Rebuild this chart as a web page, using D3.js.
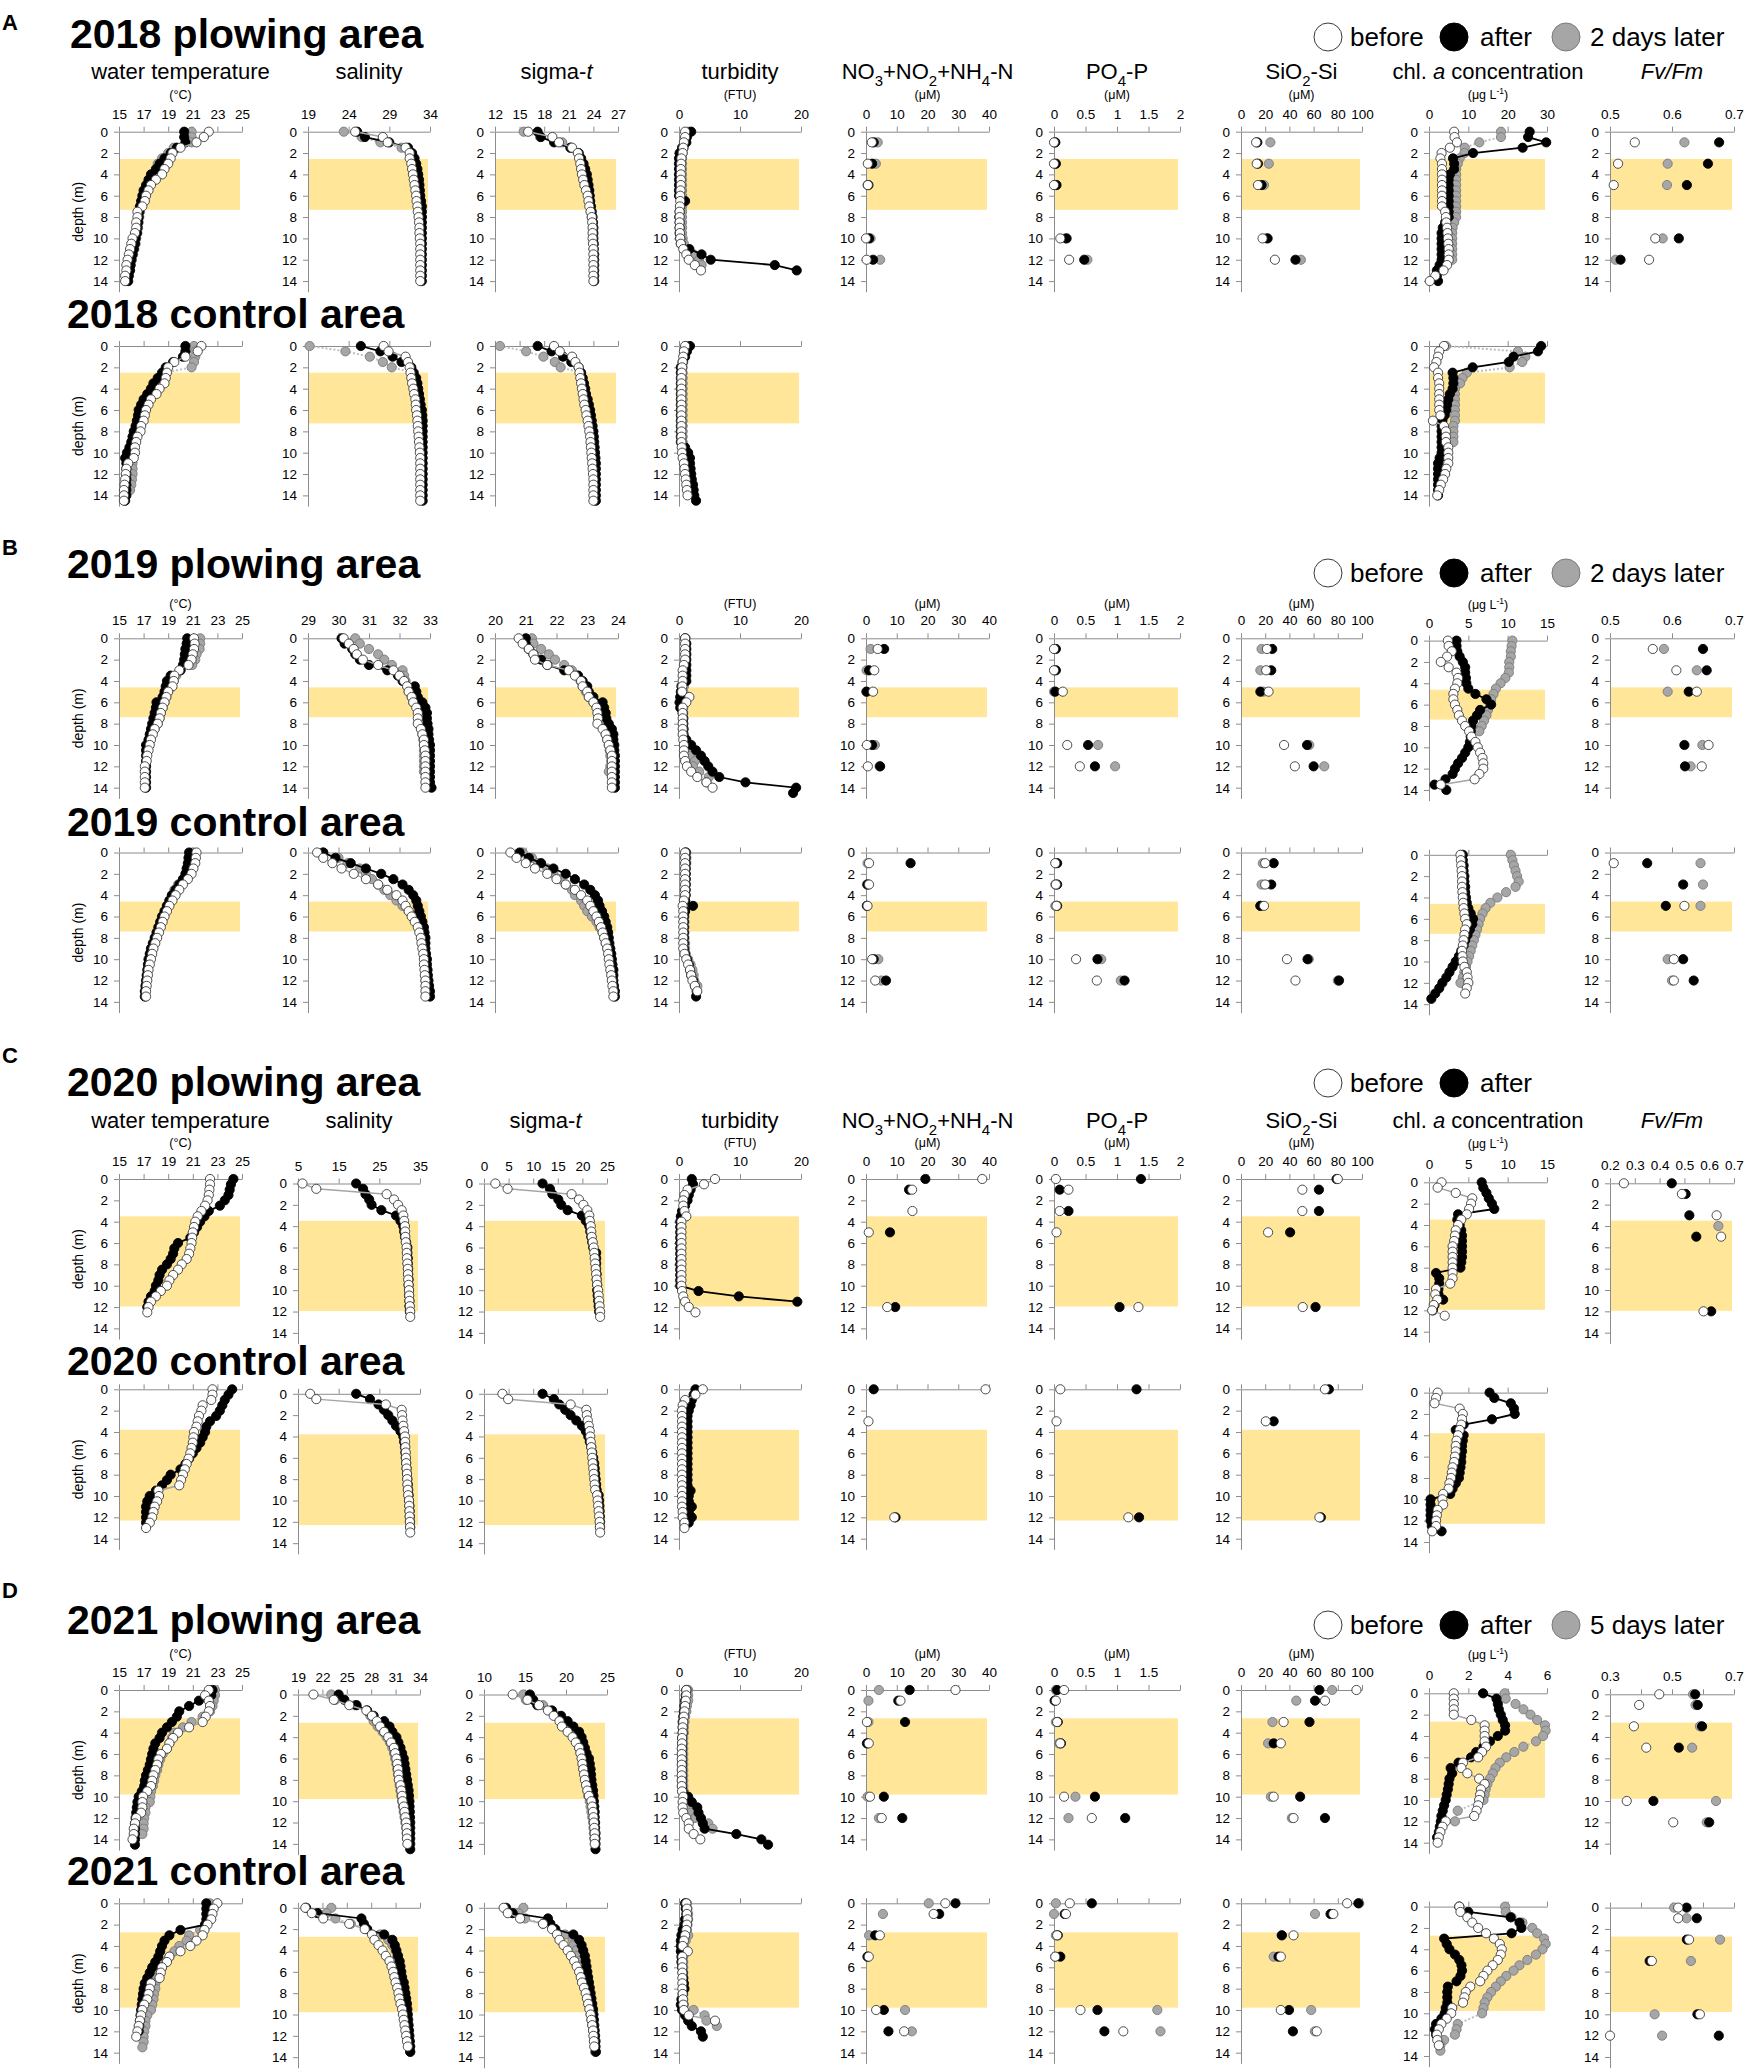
<!DOCTYPE html>
<html lang="en">
<head>
<meta charset="UTF-8">
<title>Plowing area profiles 2018-2021</title>
<script src="https://d3js.org/d3.v7.min.js"></script>
<style>
  body { margin: 0; background: #fff; }
  svg { display: block; font-family: "Liberation Sans", Arial, sans-serif; }
  .axis path, .axis line { stroke: #8c8c8c; }
  .axis text { font-size: 13.5px; fill: #000; font-family: "Liberation Sans", Arial, sans-serif; }
</style>
</head>
<body>
<script>
// ---- categories / labels ----
const rowTitles = ["2018 plowing area", "2018 control area", "2019 plowing area", "2019 control area",
                   "2020 plowing area", "2020 control area", "2021 plowing area", "2021 control area"];
const legendNames = [["before", "after", "2 days later"], ["before", "after", "2 days later"],
                     ["before", "after"], ["before", "after", "5 days later"]];
const panelTitles = [
  [["water temperature"]], [["salinity"]], [["sigma-"], ["t", "i"]], [["turbidity"]],
  [["NO"], ["3", "sub"], ["+NO"], ["2", "sub"], ["+NH"], ["4", "sub"], ["-N"]],
  [["PO"], ["4", "sub"], ["-P"]], [["SiO"], ["2", "sub"], ["-Si"]],
  [["chl. "], ["a", "i"], [" concentration"]], [["Fv/Fm", "i"]]
];
const panelUnits = [[["(°C)"]], null, null, [["(FTU)"]], [["(μM)"]], [["(μM)"]], [["(μM)"]],
                    [["(μg L"], ["-1", "sup"], [")"]], null];

// ---- tick labels ----
const tempTicks = [15, 17, 19, 21, 23, 25];
const salTicks = [[19, 24, 29, 34], [29, 30, 31, 32, 33], [5, 15, 25, 35], [19, 22, 25, 28, 31, 34]];
const sigTicks = [[12, 15, 18, 21, 24, 27], [20, 21, 22, 23, 24], [0, 5, 10, 15, 20, 25], [10, 15, 20, 25]];
const turbTicks = [0, 10, 20];
const nTicks = [0, 10, 20, 30, 40];
const pTicks = [0, 0.5, 1, 1.5, 2];
const siTicks = [0, 20, 40, 60, 80, 100];
const chlTicks = [[0, 10, 20, 30], [0, 5, 10, 15], [0, 5, 10, 15], [0, 2, 4, 6]];
const fvTicks = [[0.5, 0.6, 0.7], [0.5, 0.6, 0.7], [0.2, 0.3, 0.4, 0.5, 0.6, 0.7], [0.3, 0.4, 0.5, 0.6, 0.7]];
const hiddenLabels2021 = { 5: [2], 8: [0.4, 0.6] };
const depthTicks = [0, 2, 4, 6, 8, 10, 12, 14];

// ---- depths ----
const ctdDepth = [0, 0.5, 1, 1.5, 2, 2.5, 3, 3.5, 4, 4.5, 5, 5.5, 6, 6.5, 7, 7.5, 8, 8.5, 9, 9.5, 10, 10.5, 11, 11.5, 12, 12.5, 13, 13.5, 14, 14.5];
const bottle1819 = [1, 3, 5, 10, 12];
const bottle20p = [0, 1, 3, 5, 12];
const bottle20c = [0, 3, 12];
const fvDepth20 = [0, 1, 3, 4, 5, 12];
const bottle21 = [0, 1, 3, 5, 10, 12];
const _ = null;

// ===== 2018 plowing =====
const temp18p = {
  before: [22.3,21.9,21.3,20.0,19.35,19.2,19.0,18.7,18.5,18.0,17.6,17.4,17.2,17.1,16.9,16.5,16.5,16.4,16.4,16.3,16.1,16.0,15.9,15.8,15.7,15.6,15.6,15.5,15.5],
  after: [20.3,20.3,20.4,19.7,19.2,18.7,18.3,18.0,17.6,17.4,17.2,17.0,16.9,16.8,16.7,16.65,16.6,16.55,16.5,16.45,16.35,16.3,16.2,16.1,16.0,15.95,15.9,15.8,15.75],
  later: [20.9,20.9,20.9,19.45,19.0,18.5,18.15,18.05,17.8,17.55,17.35,17.15,17.0,16.9,16.8,16.7,16.65,16.6,16.55,16.5,16.4,16.35,16.25,16.15,16.05]
};
const sal18p = {
  before: [24.8,28.2,28.8,31.0,31.5,31.5,31.7,31.8,31.9,32.0,32.1,32.2,32.3,32.35,32.45,32.5,32.6,32.65,32.7,32.7,32.75,32.8,32.8,32.8,32.8,32.8,32.8,32.8,32.8],
  after: [25.05,26.0,29.0,31.3,31.8,32.1,32.3,32.45,32.55,32.65,32.7,32.75,32.8,32.9,33.0,33.0,33.0,33.0,33.0,33.0,33.0,33.0,33.0,33.0,33.0,33.0,33.0,33.0,33.0],
  later: [23.4,25.6,27.9,30.5,31.7,32.0,32.2,32.35,32.5,32.6,32.65,32.7,32.75,32.8,32.9,32.95,33.0]
};
const sig18p = {
  before: [16.05,19.0,19.8,21.4,22.1,22.25,22.4,22.5,22.6,22.75,22.9,23.1,23.3,23.4,23.5,23.65,23.8,23.85,23.9,23.9,23.9,23.95,24.0,24.0,24.0,24.0,24.0,24.0,24.0],
  after: [17.2,17.6,19.2,21.2,22.2,22.5,22.8,23.0,23.2,23.3,23.4,23.5,23.55,23.6,23.7,23.8,23.9,23.95,24.0,24.0,24.0,24.05,24.05,24.1,24.1,24.1,24.1,24.1,24.1],
  later: [15.5,17.5,20.2,21.2,22.2,22.4,22.6,22.8,23.0,23.15,23.3,23.4,23.5,23.6,23.65,23.7,23.8]
};
const turb18p = {
  before: [1.0,1.0,0.8,0.7,0.6,0.4,0.35,0.3,0.3,0.3,0.3,0.25,0.2,0.2,0.15,0.1,0.1,0.1,0.1,0.15,0.2,0.3,0.7,1.2,1.6,2.6,3.6],
  after: [2.0,1.3,1.2,0.5,0.1,0,0,0,0,0,0,0,0,1.0,0.2,0.1,0.05,0.1,0.1,0.1,0.2,0.3,1.7,3.7,5.2,15.7,19.3],
  later: [1.5,1.2,1.0,0.8,0.6,0.5,0.5,0.5,0.5,0.5,0.5,0.5,0.5,0.5,0.5,0.5,0.5,0.5,0.5,0.5,0.6,0.8,1.5,2.4,3.3,3.7]
};
const n18p = { depth: bottle1819, before: [1.9,0.6,0.6,0,0.2], after: [2.5,2.0,0.8,1.0,2.3], later: [3.8,3.2,0.5,1.5,4.6] };
const p18p = { depth: bottle1819, before: [0,0,0,0.1,0.24], after: [0.02,0.03,0.04,0.2,0.48], later: [0.02,0.02,0.02,0.18,0.53] };
const si18p = { depth: bottle1819, before: [12.5,13,14,17.8,28], after: [13.5,14,17,22,45], later: [24.3,23,19,21,49.5] };
const chl18p = {
  before: [6.4,6.5,7.1,5.3,3.2,2.9,3.3,3.3,3.3,3.3,3.3,3.3,3.3,3.3,3.3,4.1,4.3,4.4,4.6,4.7,4.8,4.9,5.0,5.0,5.0,4.6,3.7,1.6,0.2],
  after: [25.6,25.2,29.8,23.8,11.2,6.1,6.4,6.4,5.3,5.0,5.0,5.0,5.0,5.0,5.0,5.0,5.0,4.1,3.5,3.2,3.2,3.2,3.2,3.2,3.2,2.7,2.0,2.0,2.3],
  later: [18.3,18.3,12.8,9.1,9.0,7.8,7.3,6.9,6.9,6.9,6.9,6.9,6.9,6.9,6.9,6.9,6.9,6.4,6.0,5.9,5.9,5.9,5.9,5.9,5.9]
};
const fv18p = { depth: bottle1819, before: [0.54,0.513,0.506,0.573,0.563], after: [0.676,0.658,0.624,0.611,0.517], later: [0.62,0.593,0.592,0.585,0.509] };

// ===== 2018 control =====
const temp18c = {
  before: [21.7,21.4,20.4,19.5,19.0,18.9,18.8,18.7,18.3,18.05,17.6,17.4,17.2,17.1,17.0,16.8,16.75,16.5,16.4,16.3,16.3,16.2,15.75,15.6,15.55,15.5,15.45,15.4,15.4,15.4],
  after: [20.4,20.4,20.2,19.4,18.8,18.5,18.15,17.8,17.6,17.3,17.0,16.8,16.6,16.55,16.45,16.35,16.2,16.1,16.0,15.85,15.65,15.5,15.6,15.6,15.6,15.6,15.6,15.6,15.6,15.5],
  later: [21.1,21.2,21.2,21.1,20.9,18.7,18.3,18.0,17.8,17.5,17.2,17.0,16.8,16.7,16.6,16.5,16.4,16.3,16.25,16.2,16.15,16.1,16.1,16.1,16.1,16.05,16.0,15.9]
};
const sal18c = {
  before: [28.3,28.9,31.0,31.3,31.5,31.6,31.7,31.8,31.95,32.05,32.2,32.25,32.3,32.4,32.45,32.5,32.55,32.6,32.65,32.7,32.75,32.8,32.8,32.8,32.8,32.8,32.8,32.8,32.8,32.8],
  after: [25.5,27.9,29.4,30.5,31.7,32.0,32.3,32.45,32.55,32.65,32.75,32.85,33.0,33.05,33.1,33.1,33.1,33.1,33.1,33.1,33.1,33.1,33.1,33.1,33.1,33.1,33.1,33.1,33.1,33.1],
  later: [19.2,23.6,26.6,28.2,29.3,31.9,32.2,32.4,32.5,32.6,32.7,32.8,32.9,33.0,33.0]
};
const sig18c = {
  before: [19.2,19.9,21.4,21.8,22.2,22.3,22.4,22.5,22.6,22.7,22.8,22.9,23.05,23.15,23.3,23.4,23.5,23.6,23.65,23.7,23.75,23.8,23.85,23.9,23.95,24.0,24.0,24.0,24.0,24.0],
  after: [17.2,18.9,20.3,21.3,22.2,22.5,22.7,22.85,23.0,23.1,23.3,23.45,23.6,23.7,23.8,23.9,24.0,24.05,24.1,24.15,24.2,24.25,24.3,24.3,24.3,24.3,24.3,24.3,24.3,24.3],
  later: [12.6,15.8,17.9,19.3,20.0,22.4,22.6,22.8,22.9,23.0,23.2,23.35,23.5]
};
const turb18c = {
  before: [1.0,0.8,0.7,0.6,0.5,0.45,0.4,0.4,0.4,0.4,0.4,0.4,0.4,0.4,0.4,0.4,0.4,0.4,0.4,0.45,0.5,0.6,0.8,0.9,1.0,1.1,1.2,1.3,1.4],
  after: [1.8,1.3,1.0,0.6,0.3,0.3,0.3,0.3,0.3,0.3,0.3,0.3,0.3,0.3,0.3,0.3,0.3,0.3,0.3,1.0,1.5,1.8,1.8,1.9,2.0,2.1,2.3,2.4,2.5,2.8],
  later: [1.2,1.0,0.8,0.7,0.6,0.6,0.6,0.6,0.6,0.6,0.6,0.6,0.6,0.6,0.6,0.6,0.6,0.6,0.6,0.6,0.7,0.9,1.0,1.1,1.2,1.3,1.4]
};
const chl18c = {
  before: [3.8,2.6,2.3,1.9,1.3,2.3,2.3,2.6,2.6,2.6,2.6,2.6,2.6,2.9,1.0,3.8,4.3,4.3,4.3,4.9,4.9,4.9,4.9,4.4,4.1,3.6,3.0,2.6,2.1],
  after: [28.5,27.7,21.5,20.3,11.1,6.0,6.2,6.2,6.0,5.3,4.9,4.6,4.4,4.0,3.4,3.2,3.2,3.2,3.2,3.2,3.2,2.7,2.3,2.3,2.3,2.3,2.3,2.3,2.3],
  later: [4.3,22.6,24.5,23.7,20.5,9.6,8.5,7.9,6.6,6.6,6.6,6.6,6.6,6.6,6.6,6.2,6.2,6.2,6.2,4.4,4.4,4.4,4.4]
};

// ===== 2019 plowing =====
const temp19p = {
  before: [21.1,21.15,21.1,21.0,20.9,20.65,19.9,19.5,19.45,19.35,19.0,18.85,18.7,18.55,18.4,18.3,18.15,17.9,17.75,17.6,17.5,17.4,17.3,17.25,17.1,17.1,17.1,17.1,17.1],
  after: [20.55,20.5,20.4,20.35,20.3,20.2,20.0,19.2,18.9,18.8,18.7,18.55,18.05,18.0,17.9,17.8,17.7,17.6,17.5,17.4,17.2,17.2,17.2,17.2,17.2,17.2,17.2,17.2,17.2],
  later: [21.6,21.6,21.55,21.3,21.2,20.95,20.0,19.65,19.45,19.3,19.0,18.85,18.7,18.55,18.4,18.3,18.15,17.9]
};
const sal19p = {
  before: [30.17,30.34,30.5,30.6,30.8,31.3,31.8,32.0,32.15,32.25,32.3,32.4,32.45,32.55,32.6,32.6,32.6,32.7,32.75,32.8,32.8,32.83,32.85,32.85,32.85,32.85,32.85,32.85,32.85],
  after: [30.1,30.2,30.45,30.55,30.7,31.0,31.6,31.95,32.1,32.5,32.55,32.6,32.75,32.85,32.9,32.9,32.92,32.95,32.95,32.97,33.0,33.0,33.0,33.0,33.0,33.0,33.0,33.0,33.05],
  later: [30.55,30.7,31.0,31.3,31.5,31.75,32.1,32.15,32.2,32.25,32.3,32.4,32.45,32.6,32.65,32.7,32.7,32.72,32.75,32.78,32.8,32.8,32.8,32.8,32.8,32.8]
};
const sig19p = {
  before: [20.77,20.9,21.1,21.25,21.3,21.7,22.4,22.6,22.8,22.85,23.0,23.05,23.2,23.3,23.33,23.35,23.33,23.5,23.6,23.65,23.7,23.75,23.8,23.8,23.8,23.8,23.8,23.8,23.8],
  after: [21.0,21.0,21.1,21.25,21.5,21.7,22.25,22.7,22.85,23.0,23.05,23.2,23.5,23.55,23.6,23.62,23.7,23.8,23.85,23.85,23.88,23.88,23.9,23.9,23.9,23.9,23.9,23.9,23.9],
  later: [21.2,21.25,21.5,21.75,21.95,22.25,22.5,22.7,22.78,22.85,22.95,23.05,23.2,23.3,23.35,23.4,23.45,23.55,23.6,23.65,23.7,23.73,23.75,23.78,23.75,23.7]
};
const turb19p = {
  before: [1.0,1.0,1.0,1.0,1.0,0.8,0.6,0.6,0.6,0.55,0.5,1.7,1.2,0.6,0.6,0.6,0.6,0.6,0.6,0.7,0.8,0.8,0.8,1.0,1.3,2.0,3.0,4.5,5.5],
  after: [1.0,1.2,1.2,1.2,1.2,1.2,1.2,1.2,1.2,0.4,0.3,0.2,0.1,0.2,0.6,0.7,0.7,0.7,0.7,1.2,2.0,2.8,3.6,4.2,4.8,5.5,6.6,10.9,19.2,18.7],
  later: [1.1,1.1,1.1,1.1,1.1,1.0,0.9,0.9,0.9,0.8,0.7,0.8,0.8,0.7,0.7,0.7,0.7,0.8,0.8,0.9,1.0,1.5,1.9,2.6,2.3,3.3,4.9,4.5]
};
const n19p = { depth: bottle1819, before: [3.8,2.7,2.3,0.3,0.6], after: [5.9,1.0,0.2,2.0,4.6], later: [1.5,0.2,0.1,2.9,4.4] };
const p19p = { depth: bottle1819, before: [0,0,0.14,0.21,0.41], after: [0.03,0.03,0.02,0.54,0.65], later: [0.01,0.01,0,0.7,0.97] };
const si19p = { depth: bottle1819, before: [21.4,20.8,22.8,35.6,44.5], after: [25.8,25,16,54.6,60], later: [17,16,18.4,56.4,68.8] };
const chl19p = {
  before: [2.4,2.5,2.9,2.3,1.5,2.5,3.5,3.7,3.6,3.3,3.1,3.1,3.3,3.6,3.8,4.2,4.6,5.1,5.4,5.9,6.2,6.5,6.8,6.9,6.9,6.4,5.8,1.5],
  after: [3.5,3.5,3.6,3.9,4.3,4.6,4.6,4.7,4.75,5.0,5.9,7.3,7.9,6.5,6.1,5.6,5.4,5.3,5.3,5.2,5.0,4.6,4.2,3.7,3.3,3.0,2.1,0.7,2.2],
  later: [10.6,10.5,10.4,10.4,10.2,10.2,10.15,9.7,9.1,8.5,8.2,7.9,7.75,7.5,7.3,7.0,6.7,6.4]
};
const fv19p = { depth: bottle1819, before: [0.569,0.607,0.64,0.659,0.648], after: [0.65,0.656,0.627,0.62,0.621], later: [0.587,0.64,0.593,0.649,0.63] };

// ===== 2019 control =====
const temp19c = {
  before: [21.3,21.25,21.2,21.05,20.9,20.6,20.2,19.9,19.6,19.35,19.1,18.9,18.7,18.55,18.4,18.25,18.1,17.95,17.8,17.7,17.6,17.5,17.4,17.35,17.3,17.25,17.2,17.2],
  after: [20.7,20.65,20.6,20.5,20.4,20.2,19.9,19.6,19.3,19.1,18.9,18.7,18.5,18.35,18.2,18.05,17.9,17.75,17.6,17.5,17.4,17.35,17.3,17.25,17.2,17.15,17.1,17.1],
  later: [21.0,20.95,20.8,20.7,20.5,20.2,19.8,19.5,19.3,19.1,18.9,18.75,18.6,18.45,18.3,18.2,18.05,17.9,17.75,17.65,17.55,17.45,17.35,17.3,17.25,17.2]
};
const sal19c = {
  before: [29.3,29.5,29.8,30.1,30.5,30.9,31.3,31.6,31.9,32.1,32.2,32.3,32.4,32.5,32.6,32.65,32.7,32.72,32.75,32.78,32.8,32.8,32.82,32.83,32.85,32.85,32.85,32.85],
  after: [29.5,29.9,30.4,30.9,31.4,31.8,32.1,32.3,32.45,32.55,32.6,32.65,32.7,32.75,32.8,32.82,32.85,32.85,32.85,32.87,32.9,32.9,32.92,32.93,32.95,32.97,33.0,33.0],
  later: [29.5,30.0,30.3,30.7,30.9,31.1,31.3,31.5,31.7,31.9,32.1,32.3,32.45,32.55,32.65,32.7,32.75,32.78,32.8,32.8,32.82,32.83,32.85,32.85,32.85]
};
const sig19c = {
  before: [20.5,20.7,21.0,21.3,21.7,22.0,22.3,22.6,22.8,23.0,23.1,23.2,23.3,23.38,23.45,23.5,23.55,23.6,23.65,23.68,23.7,23.72,23.75,23.78,23.8,23.82,23.85,23.85],
  after: [20.8,21.1,21.5,21.9,22.3,22.6,22.9,23.1,23.25,23.35,23.4,23.48,23.55,23.6,23.65,23.68,23.7,23.72,23.75,23.78,23.8,23.82,23.85,23.85,23.85,23.87,23.9,23.9],
  later: [20.9,21.2,21.4,21.7,21.9,22.1,22.3,22.5,22.6,22.8,22.9,23.0,23.15,23.3,23.4,23.5,23.55,23.6,23.65,23.7,23.72,23.75,23.78,23.8,23.82]
};
const turb19c = {
  before: [1.0,1.0,1.0,1.0,1.0,1.0,1.0,1.0,1.0,0.8,0.6,0.7,0.7,0.7,0.7,0.7,0.7,0.7,0.7,0.9,1.2,1.5,1.8,2.0,2.2,2.6,3.0],
  after: [1.1,1.1,1.1,1.1,1.1,1.1,1.1,1.1,1.1,1.0,2.3,1.0,0.8,0.8,0.8,0.8,0.8,0.8,0.8,1.0,1.3,1.6,1.8,2.0,2.3,2.6,2.9,2.8],
  later: [1.2,1.2,1.2,1.1,1.1,1.1,1.1,1.0,1.0,1.0,0.9,0.9,0.9,0.9,0.9,0.9,0.9,1.0,1.0,1.1,1.5,1.9,2.2,2.4,2.5,3.0]
};
const n19c = { depth: bottle1819, before: [1.0,1.0,0.5,2.0,3.0], after: [14.5,0.5,0.3,2.5,6.5], later: [0.5,0.3,0.3,4.0,5.0] };
const p19c = { depth: bottle1819, before: [0.02,0.03,0.04,0.35,0.68], after: [0.05,0.05,0.05,0.69,1.12], later: [0.03,0.02,0.02,0.75,1.06] };
const si19c = { depth: bottle1819, before: [20,20,19,38,45], after: [27,25,16,55,81], later: [18,17,16,56,80] };
const chl19c = {
  before: [4.0,4.05,4.1,4.15,4.2,4.2,4.2,4.25,4.3,4.35,4.4,4.5,4.6,4.8,4.6,4.5,4.4,4.3,4.2,4.25,4.3,4.5,4.8,4.9,5.0,4.8,4.6],
  after: [4.3,4.3,4.4,4.4,4.5,4.5,4.6,4.6,4.7,4.8,5.0,5.3,5.6,5.5,5.2,4.9,4.6,4.4,4.1,3.8,3.4,3.0,2.6,2.2,1.7,1.3,0.8,0.3],
  later: [10.4,10.6,10.8,11.0,11.2,11.4,11.0,9.8,8.7,7.8,7.2,6.8,6.5,6.3,6.1,5.9,5.7,5.5,5.3,5.1,4.9,4.7,4.5,4.3,4.0]
};
const fv19c = { depth: bottle1819, before: [0.506,_,0.62,0.603,0.603], after: [0.56,0.618,0.59,0.618,0.635], later: [0.646,0.65,0.646,0.593,0.6] };

// ===== 2020 plowing =====
const temp20p = {
  before: [22.4,22.4,22.35,22.3,22.2,22.0,21.7,21.4,21.2,21.1,21.0,20.95,20.9,20.8,20.7,20.5,20.1,19.8,19.4,19.1,18.9,18.4,18.0,17.6,17.4,17.3],
  after: [24.3,24.1,24.0,23.9,23.6,23.2,22.3,21.95,21.6,21.35,21.1,20.8,19.8,19.5,19.4,19.2,18.9,18.5,18.3,18.2,18.0,17.9,17.6,17.4,17.3]
};
const sal20p = {
  before: [6.1,9.5,26.8,28.6,29.6,30.5,30.9,31.1,31.3,31.35,31.4,31.5,31.7,31.75,31.8,31.9,32.0,32.05,32.1,32.2,32.3,32.35,32.4,32.5,32.6,32.6],
  after: [19.3,21.0,21.6,22.5,23.1,25.5,29.1,30.2,30.9,31.1,31.3,31.6,31.9,31.9,32.0,32.0,32.1,32.1,32.2,32.2,32.3,32.3,32.4,32.4,32.5]
};
const sig20p = {
  before: [2.3,4.8,17.8,19.3,20.2,21.0,21.4,21.5,21.7,21.8,21.9,22.1,22.3,22.4,22.5,22.6,22.7,22.8,22.9,23.0,23.2,23.3,23.4,23.5,23.6,23.6],
  after: [11.9,13.4,13.9,15.1,15.7,17.0,19.9,20.7,21.4,21.6,21.8,22.0,22.2,22.8,22.8,22.8,22.8,22.9,22.9,23.0,23.0,23.1,23.2,23.3,23.4]
};
const turb20p = {
  before: [5.9,4.1,1.4,0.9,0.7,0.7,0.9,1.2,0.4,0.4,0.4,0.4,0.4,0.4,0.4,0.4,0.4,0.4,0.4,0.4,0.4,0.5,0.7,1.0,1.6,2.7],
  after: [2.1,2.3,1.9,1.6,1.4,1.0,0.5,0.3,0.2,0.2,0.2,0.2,0.2,0.2,0.2,0.2,0.2,0.2,0.2,0.2,0.2,3.2,9.8,19.4]
};
const n20p = { depth: bottle20p, before: [37.8,15.0,15.1,0.9,6.9], after: [19.3,14.0,_,7.8,9.5] };
const p20p = { depth: bottle20p, before: [0.03,0.23,0.09,0.04,1.34], after: [1.38,0.09,0.23,_,1.04] };
const si20p = { depth: bottle20p, before: [80,50.7,50.7,22.4,51], after: [79,64.4,64.4,40.6,61.6] };
const chl20p = {
  before: [1.6,1.1,3.4,5.5,5.35,5.1,4.8,4.1,3.7,3.4,3.3,3.2,3.0,3.0,3.0,3.0,3.0,3.0,3.0,2.7,0.9,0.8,1.05,0.6,0.4,2.0],
  after: [6.7,6.9,7.3,7.6,8.0,8.3,3.7,3.6,3.9,4.1,4.2,4.2,4.2,4.2,4.2,4.1,4.0,0.9,1.3,1.3,1.2,1.2,1.8,0.7,0.5]
};
const fv20p = { depth: fvDepth20, before: [0.256,0.49,0.63,_,0.648,0.577], after: [0.449,0.505,0.52,_,0.548,0.608], later: [_,_,_,0.637,_,_] };

// ===== 2020 control =====
const temp20c = {
  before: [22.6,22.6,22.5,21.8,21.7,21.5,21.4,21.3,21.1,21.05,21.0,20.9,20.8,20.65,20.5,20.35,20.2,20.05,19.9,18.2,18.25,18.1,17.9,17.8,17.7,17.5,17.2],
  after: [24.2,23.9,23.6,23.4,23.2,22.9,22.4,22.1,22.0,21.8,21.6,21.3,21.0,20.7,20.4,20.0,19.2,18.9,18.5,18.0,17.5,17.3,17.2,17.2,17.2,17.2]
};
const sal20c = {
  before: [8.0,9.5,26.6,30.5,30.6,30.7,30.9,31.1,31.3,31.35,31.4,31.5,31.55,31.6,31.7,31.8,31.85,31.9,32.0,32.1,32.3,32.35,32.4,32.45,32.5,32.55,32.6],
  after: [19.3,22.7,24.8,26.1,27.2,28.2,29.1,30.2,30.9,31.1,31.3,31.4,31.5,31.6,31.7,31.8,31.9,32.0,32.1,32.2,32.3,32.4,32.45,32.5,32.55,32.6]
};
const sig20c = {
  before: [3.75,4.9,17.6,20.8,20.9,21.1,21.3,21.5,21.6,21.7,21.8,21.9,22.0,22.1,22.2,22.3,22.4,22.5,22.6,23.0,23.1,23.2,23.3,23.4,23.5,23.55,23.6],
  after: [11.9,14.2,15.3,16.5,17.6,18.75,19.9,20.7,21.2,21.5,21.8,22.0,22.2,22.4,22.5,22.6,22.7,22.8,22.9,23.3,23.4,23.45,23.5,23.55,23.6,23.6]
};
const turb20c = {
  before: [3.9,2.7,1.0,0.6,0.5,0.5,0.5,0.5,0.5,0.5,0.5,0.5,0.5,0.5,0.5,0.5,0.5,0.5,0.5,0.5,0.5,0.5,0.5,0.6,0.6,0.9,0.9],
  after: [2.7,2.4,2.1,1.9,1.6,1.4,1.4,1.4,1.4,1.4,1.4,1.4,1.4,1.4,1.4,1.4,1.4,1.4,1.4,1.9,1.6,1.6,2.1,1.6,2.1,1.6]
};
const n20c = { depth: bottle20c, before: [38.9,0.8,9.2], after: [2.5,_,9.6] };
const p20c = { depth: bottle20c, before: [0.1,0.04,1.18], after: [1.31,_,1.35] };
const si20c = { depth: bottle20c, before: [69.4,20.5,64.8], after: [72.6,27,66] };
const chl20c = {
  before: [1.1,0.9,0.7,3.9,4.3,4.2,4.1,3.9,3.7,3.5,3.4,3.4,3.3,3.2,3.0,2.9,2.8,2.6,2.5,1.8,1.7,1.8,1.1,1.0,0.9,0.9,0.4],
  after: [7.7,8.3,10.4,10.8,10.9,8.0,4.4,3.4,4.4,4.3,4.2,4.2,4.1,4.1,4.0,3.9,3.8,3.4,3.0,2.7,0.2,0.2,0.2,0.2,0.2,0.35,1.6]
};

// ===== 2021 plowing =====
const temp21p = {
  before: [22.3,22.0,22.3,22.4,22.3,22.05,21.8,20.7,19.8,19.4,19.1,18.9,18.4,18.2,18.1,17.95,17.8,17.7,17.6,17.3,16.95,16.9,16.9,16.8,16.4,16.3,16.2,16.2,16.1],
  after: [22.6,22.5,21.5,20.7,19.9,19.7,19.3,18.9,18.5,18.3,17.95,17.8,17.7,17.6,17.5,17.35,17.2,17.1,17.05,16.85,16.6,16.5,16.45,16.4,16.35,16.3,16.3,16.3,16.3,16.3],
  later: [22.8,22.8,22.7,22.6,22.4,21.8,20.9,20.2,19.5,19.3,19.1,18.9,18.55,18.35,18.2,18.1,17.95,17.85,17.75,17.6,17.55,17.5,17.15,17.15,17.05,17.0,17.0,16.9]
};
const sal21p = {
  before: [20.9,23.4,25.3,27.4,28.1,28.7,29.1,29.6,30.1,30.45,30.8,30.95,31.1,31.2,31.3,31.35,31.4,31.6,31.7,31.8,31.85,32.0,32.1,32.2,32.3,32.35,32.4,32.4,32.45],
  after: [24.0,24.7,26.2,27.5,28.3,29.6,30.25,30.6,31.1,31.35,31.6,31.8,32.0,32.1,32.2,32.3,32.4,32.5,32.6,32.65,32.7,32.72,32.75,32.77,32.8,32.8,32.8,32.8,32.8,32.8],
  later: [23.1,23.6,26.0,27.5,27.9,28.3,28.8,29.4,29.9,30.3,30.6,30.8,30.95,31.1,31.2,31.3,31.4,31.5,31.6,31.7,31.8,31.9,32.0,32.1,32.2,32.3,32.35,32.4]
};
const sig21p = {
  before: [13.5,15.3,16.7,17.8,18.5,19.2,19.5,20.2,20.8,21.2,21.6,21.75,21.9,22.0,22.1,22.2,22.3,22.45,22.6,22.8,23.1,23.2,23.3,23.35,23.4,23.45,23.5,23.5,23.5],
  after: [15.6,16.0,16.5,18.3,19.4,20.2,20.9,21.6,21.9,22.1,22.3,22.5,22.8,22.9,23.0,23.05,23.1,23.2,23.3,23.35,23.4,23.45,23.5,23.5,23.55,23.55,23.6,23.6,23.6,23.6],
  later: [14.8,15.1,17.2,18.2,19.0,19.5,20.0,20.5,21.0,21.3,21.6,21.8,21.95,22.05,22.15,22.3,22.4,22.5,22.6,22.7,22.9,23.0,23.1,23.2,23.3,23.35,23.4,23.45]
};
const turb21p = {
  before: [1.2,1.2,1.1,1.0,0.9,0.8,0.7,0.6,0.6,0.5,0.5,0.45,0.45,0.45,0.45,0.45,0.45,0.45,0.45,0.5,0.7,0.6,0.6,0.7,1.2,1.6,1.6,2.4,3.5],
  after: [1.2,1.1,1.0,0.9,0.8,0.7,0.6,0.6,0.6,0.5,0.5,0.5,0.5,0.5,0.5,0.5,0.5,0.5,0.5,0.6,1.5,2.1,3.0,3.2,3.6,3.9,4.2,9.4,13.5,14.6],
  later: [1.5,1.5,1.5,1.3,1.2,1.0,0.9,0.8,0.8,0.7,0.7,0.7,0.7,0.7,0.7,0.7,0.7,0.7,0.7,0.8,0.9,1.0,1.5,2.0,2.6,4.8,5.5]
};
const n21p = { depth: bottle21, before: [29.1,11.2,0.3,0.9,1.3,5.1], after: [14.2,10.5,12.7,0.3,5.8,11.8], later: [4.2,0.8,0.8,0.5,0.5,4.2] };
const p21p = { depth: bottle21, before: [0.16,0.03,0.05,0.1,0.16,0.6], after: [0.05,0.01,0.06,0.11,0.65,1.13], later: [0.03,0.02,0.03,0.08,0.34,0.23] };
const si21p = { depth: bottle21, before: [95.4,69.4,35.2,32.9,27,43.4], after: [64.8,61.2,56.6,27,48.9,69.4], later: [75.3,45.7,26,22.4,24.7,42] };
const chl21p = {
  before: [1.26,1.26,1.26,1.26,1.26,2.15,2.83,2.83,2.83,2.83,2.9,2.7,2.5,1.73,1.65,1.95,2.55,2.83,2.64,2.6,2.55,2.5,2.42,2.3,0.85,0.69,0.58,0.5,0.44],
  after: [2.75,3.43,3.5,3.55,3.65,3.75,3.87,3.87,3.5,3.1,2.77,2.4,2.14,1.5,1.1,1.18,1.04,1.0,0.96,0.9,0.85,0.77,0.7,0.63,0.6,0.55,0.5,0.41],
  later: [3.85,3.9,4.4,4.8,5.16,5.5,5.9,5.93,5.8,5.44,4.8,4.34,3.93,3.6,3.38,3.24,3.1,2.97,2.88,2.83,2.77,_,1.46,_,1.32]
};
const fv21p = { depth: bottle21, before: [0.459,0.394,0.377,0.417,0.354,0.504], after: [0.575,0.583,0.597,0.522,0.44,0.62], later: [0.568,0.576,0.59,0.565,0.642,0.612] };

// ===== 2021 control =====
const temp21c = {
  before: [23.0,22.7,22.6,22.5,22.2,21.95,21.8,21.3,20.8,20.0,19.1,18.9,18.5,18.4,18.3,17.6,17.5,17.4,17.3,17.05,16.9,16.8,16.7,16.6,16.5,16.4],
  after: [22.1,22.1,22.1,22.1,22.0,20.0,19.1,18.7,18.5,18.35,18.2,17.95,17.7,17.5,17.3,17.1,17.0,16.95,16.9,16.85,16.8,16.75,16.7,16.65,16.6],
  later: [22.4,22.5,22.4,22.3,22.0,21.6,20.7,20.5,19.9,19.5,19.1,18.8,18.5,18.3,18.1,17.95,17.95,17.85,17.8,17.7,17.6,17.3,17.15,17.15,17.05,17.0,17.0,16.9]
};
const sal21c = {
  before: [19.9,20.7,22.1,25.3,27.2,28.1,28.4,28.9,29.4,29.8,30.25,30.5,30.7,30.85,31.0,31.2,31.35,31.45,31.6,31.8,31.9,32.0,32.1,32.2,32.3,32.4,32.5],
  after: [20.0,21.4,26.8,27.1,27.5,29.6,30.6,30.9,31.1,31.3,31.5,31.6,31.7,31.8,32.0,32.1,32.2,32.3,32.4,32.45,32.5,32.55,32.6,32.65,32.7,32.75,32.8,32.8],
  later: [23.1,22.5,23.6,25.5,27.5,29.1,30.1,30.6,31.0,31.2,31.3,31.4,31.5,31.6,31.7,31.8,31.9,32.0,32.1,32.2,32.3,32.4,32.45,32.5,32.55,32.6,32.7,32.8]
};
const sig21c = {
  before: [12.4,12.9,14.4,17.2,18.3,18.9,19.2,19.7,20.2,20.6,21.0,21.3,21.6,21.8,21.95,22.2,22.4,22.55,22.7,22.85,23.0,23.1,23.2,23.3,23.35,23.4,23.45],
  after: [12.7,13.5,17.8,18.1,18.7,20.9,21.6,21.9,22.1,22.3,22.4,22.5,22.6,22.7,22.8,22.9,23.0,23.1,23.2,23.3,23.35,23.4,23.45,23.5,23.55,23.6,23.6,23.65],
  later: [14.8,14.2,15.0,17.2,18.6,19.9,20.8,20.9,21.2,21.4,21.6,21.8,21.95,22.1,22.25,22.4,22.5,22.6,22.75,22.9,23.0,23.1,23.2,23.3,23.4,23.45,23.5,23.55]
};
const turb21c = {
  before: [1.2,1.3,1.3,1.4,1.3,1.2,1.0,0.8,0.6,1.45,0.55,0.55,0.55,0.55,0.55,0.55,0.55,0.6,0.65,0.7,0.8,1.6,5.9],
  after: [1.0,1.1,1.2,1.0,0.9,0.6,0.4,0.3,0.3,0.3,0.4,0.4,0.5,0.6,0.7,0.8,0.9,0.6,0.4,0.3,0.5,1.0,1.5,2.1,3.6,3.9],
  later: [1.3,1.4,1.5,1.5,1.4,1.3,1.5,1.1,0.8,0.7,0.7,0.7,0.7,0.7,0.7,0.7,0.7,0.7,0.7,0.8,2.4,4.2,4.5,6.2]
};
const n21c = { depth: bottle21, before: [25.8,22.0,4.5,0.9,3.3,12.4], after: [29.1,23.8,3.0,0.5,5.8,7.3], later: [20.4,5.5,1.0,0.5,12.7,14.9] };
const p21c = { depth: bottle21, before: [0.25,0.19,0.05,0.02,0.42,1.1], after: [0.6,0.17,0.06,0.1,0.69,0.8], later: [0.03,0.0,0.03,0.02,1.64,1.69] };
const si21c = { depth: bottle21, before: [87.7,76.3,43.4,32.9,32.9,62.6], after: [97,74,33.8,31,39.7,42.9], later: [97.7,61.2,33.5,27,58,61] };
const chl21c = {
  before: [1.54,1.6,1.95,2.2,2.5,2.9,3.3,3.6,3.7,3.65,3.5,3.24,2.97,2.77,2.6,2.1,1.87,1.8,1.73,1.18,1.13,0.9,0.63,0.5,0.4,0.42,0.5],
  after: [1.54,2.0,4.15,4.6,4.7,4.2,0.77,0.9,1.04,1.32,1.54,1.65,1.68,1.6,1.4,0.96,0.93,0.93,0.93,0.85,0.8,0.63,0.36,0.3,0.36],
  later: [3.87,3.9,4.2,4.75,5.25,5.5,5.85,5.93,5.77,5.44,5.0,4.6,4.3,3.93,3.65,3.4,3.16,2.97,2.83,2.77,2.7,_,1.46,1.4,1.32,0.77,0.58,0.58]
};
const fv21c = { depth: bottle21, before: [0.52,0.52,0.555,0.435,0.59,0.3], after: [0.547,0.58,0.548,0.428,0.582,0.651], later: [0.507,0.547,0.655,0.561,0.444,0.468] };

// ---- layout ----
const W = 1746, H = 2072, PX_PER_M = 10.67;
const panelLeft  = [119, 308, 495, 679, 866, 1054, 1241, 1429, 1610];
const panelRight = [242, 430, 618, 801, 989, 1180, 1362, 1547, 1734];
const lateLeft = { 1: 298, 2: 484 }, lateRight = { 1: 420, 2: 607 };
const lineKinds = [true, true, true, true, false, false, false, true, false];

const rowDefs = [
  { letter: "A", letterY: 30, plow: true, year: 0, top: 131.7, titleY: 48.3, band: [2.55, 7.32], unitsY: 99, panelTitleY: 79.3, legendY: 37,
    panels: [temp18p, sal18p, sig18p, turb18p, n18p, p18p, si18p, chl18p, fv18p] },
  { plow: false, year: 0, top: 346, titleY: 328.3, band: [2.5, 7.25],
    panels: [temp18c, sal18c, sig18c, turb18c, null, null, null, chl18c, null] },
  { letter: "B", letterY: 555, plow: true, year: 1, top: 638.3, titleY: 578.3, band: [4.6, 7.4], unitsY: 608, legendY: 573,
    panels: [temp19p, sal19p, sig19p, turb19p, n19p, p19p, si19p, chl19p, fv19p] },
  { plow: false, year: 1, top: 852.5, titleY: 836, band: [4.6, 7.4],
    panels: [temp19c, sal19c, sig19c, turb19c, n19c, p19c, si19c, chl19c, fv19c] },
  { letter: "C", letterY: 1063, plow: true, year: 2, top: 1179, titleY: 1096, band: [3.5, 11.95], unitsY: 1147, panelTitleY: 1128.3, legendY: 1083,
    panels: [temp20p, sal20p, sig20p, turb20p, n20p, p20p, si20p, chl20p, fv20p] },
  { plow: false, year: 2, top: 1389.3, titleY: 1375, band: [3.8, 12.3],
    panels: [temp20c, sal20c, sig20c, turb20c, n20c, p20c, si20c, chl20c, null] },
  { letter: "D", letterY: 1598, plow: true, year: 3, top: 1690, titleY: 1634, band: [2.65, 9.8], unitsY: 1658, legendY: 1625,
    panels: [temp21p, sal21p, sig21p, turb21p, n21p, p21p, si21p, chl21p, fv21p] },
  { plow: false, year: 3, top: 1903.3, titleY: 1885, band: [2.72, 9.78],
    panels: [temp21c, sal21c, sig21c, turb21c, n21c, p21c, si21c, chl21c, fv21c] }
];
rowDefs.forEach((r, i) => r.name = rowTitles[i]);

function ticksFor(k, year) {
  return [tempTicks, salTicks[year], sigTicks[year], turbTicks, nTicks, pTicks, siTicks, chlTicks[year], fvTicks[year]][k];
}

const seriesStyle = {
  before: { fill: "#ffffff", stroke: "#3a3a3a", line: "#a6a6a6", lw: 1.5, dash: null },
  after:  { fill: "#000000", stroke: "#000000", line: "#000000", lw: 1.8, dash: null },
  later:  { fill: "#a6a6a6", stroke: "#7a7a7a", line: "#bfbfbf", lw: 2, dash: "2,2" }
};

function richText(sel, segs, size) {
  let shift = 0;
  segs.forEach(([t, st]) => {
    const target = st === "sub" ? size * 0.32 : st === "sup" ? -size * 0.38 : 0;
    const ts = sel.append("tspan").text(t).attr("dy", target - shift);
    shift = target;
    if (st === "sub" || st === "sup") ts.attr("font-size", size * 0.68);
    if (st === "i") ts.attr("font-style", "italic");
  });
}

const svg = d3.select("body").append("svg").attr("width", W).attr("height", H);
svg.append("rect").attr("width", W).attr("height", H).attr("fill", "#fff");

rowDefs.forEach(row => {
  if (row.letter) {
    svg.append("text").attr("x", 2).attr("y", row.letterY).attr("font-size", 22).attr("font-weight", "bold").text(row.letter);
  }
  svg.append("text").attr("x", row.letter === "A" ? 70 : 67).attr("y", row.titleY)
    .attr("font-size", 41).attr("font-weight", "bold").text(row.name);

  // legend
  if (row.plow) {
    const names = legendNames[row.year];
    const keys = ["before", "after", "later"];
    const cx = [1328, 1454, 1566], tx = [1350, 1480, 1590];
    names.forEach((nm, i) => {
      const st = seriesStyle[keys[i]];
      svg.append("circle").attr("cx", cx[i]).attr("cy", row.legendY).attr("r", 14)
        .attr("fill", st.fill).attr("stroke", st.stroke).attr("stroke-width", 1);
      svg.append("text").attr("x", tx[i]).attr("y", row.legendY + 9).attr("font-size", 26).text(nm);
    });
  }

  row.panels.forEach((pd, k) => {
    if (!pd) return;
    const lateRow = row.year >= 2;
    const xl = lateRow && lateLeft[k] ? lateLeft[k] : panelLeft[k];
    const xr = lateRow && lateRight[k] ? lateRight[k] : panelRight[k];
    let dy = 0;
    if (lateRow) dy = (k === 1 || k === 2) ? 4.5 : k === 7 ? 3.3 : k === 8 ? 4.3 : 0;
    if (row.year === 1 && k === 7) dy = 2.3;
    const ticks = ticksFor(k, row.year);
    const x = d3.scaleLinear().domain([ticks[0], ticks[ticks.length - 1]]).range([xl, xr]);
    const y = d3.scaleLinear().domain([0, 15]).range([row.top + dy, row.top + dy + 15 * PX_PER_M]);
    const g = svg.append("g");

    // shaded plowing layer
    g.append("rect").attr("x", xl).attr("width", xr - xl - 2)
      .attr("y", y(row.band[0])).attr("height", y(row.band[1]) - y(row.band[0]))
      .attr("fill", "#FFE699");

    const hidden = row.year === 3 ? (hiddenLabels2021[k] || []) : [];
    g.append("g").attr("class", "axis").attr("transform", `translate(0,${y(0)})`)
      .call(d3.axisTop(x).tickValues(ticks).tickSize(5).tickSizeOuter(0).tickPadding(8)
        .tickFormat(v => row.plow && !hidden.includes(v) ? String(v) : ""));
    g.append("g").attr("class", "axis").attr("transform", `translate(${xl},0)`)
      .call(d3.axisLeft(y).tickValues(depthTicks).tickSize(5).tickSizeOuter(0).tickPadding(6));

    if (k === 0) {
      g.append("text").attr("transform", `translate(83,${y(7.5)}) rotate(-90)`)
        .attr("text-anchor", "middle").attr("font-size", 14).text("depth (m)");
    }

    // titles and units
    const cxp = (xl + xr) / 2;
    if (row.panelTitleY) {
      const t = g.append("text").attr("x", cxp).attr("y", row.panelTitleY).attr("text-anchor", "middle").attr("font-size", 22);
      richText(t, panelTitles[k], 22);
    }
    if (row.unitsY && panelUnits[k]) {
      const t = g.append("text").attr("x", cxp).attr("y", row.unitsY + dy * 0.3).attr("text-anchor", "middle").attr("font-size", 12.5);
      richText(t, panelUnits[k], 12.5);
    }

    // series: later first, before on top
    ["later", "after", "before"].forEach(s => {
      const vals = pd[s];
      if (!vals) return;
      const depths = pd.depth || ctdDepth;
      const pts = vals.map((v, i) => [v, depths[i]]).filter(p => p[0] !== null && p[0] !== undefined);
      const st = seriesStyle[s];
      if (lineKinds[k] && pts.length > 1) {
        g.append("path").datum(pts)
          .attr("d", d3.line().x(p => x(p[0])).y(p => y(p[1])))
          .attr("fill", "none").attr("stroke", st.line).attr("stroke-width", st.lw)
          .attr("stroke-dasharray", st.dash);
      }
      g.append("g").selectAll("circle").data(pts).join("circle")
        .attr("cx", p => x(p[0])).attr("cy", p => y(p[1])).attr("r", 4.6)
        .attr("fill", st.fill).attr("stroke", st.stroke).attr("stroke-width", 0.9);
    });
  });
});
</script>
</body>
</html>
